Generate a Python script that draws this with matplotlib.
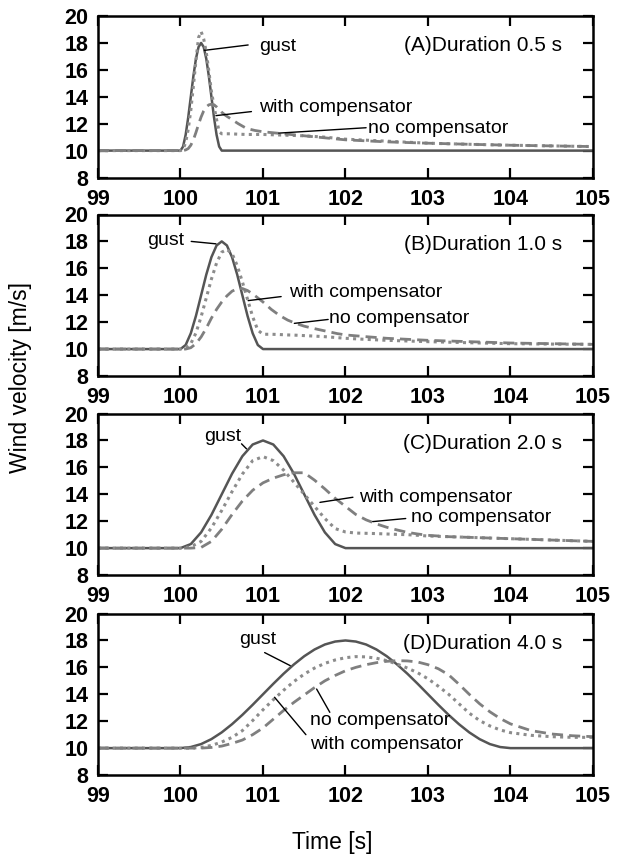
import matplotlib
matplotlib.use("Agg")
import matplotlib.pyplot as plt

plt.rcParams['font.family'] = ['Liberation Sans', 'DejaVu Sans']

# ---- data (time [s], wind velocity [m/s]) ----
# (A) duration 0.5 s
t_a = [99, 100.0, 100.03125, 100.0625, 100.09375, 100.125, 100.15625, 100.1875, 100.21875,
       100.25, 100.28125, 100.3125, 100.34375, 100.375, 100.40625, 100.4375, 100.46875, 100.5,
       100.55, 100.6, 100.7, 100.8, 100.9, 101.0, 101.25, 101.5, 101.75, 102.0,
       102.5, 103.0, 103.5, 104.0, 104.5, 105.0]
gust_a = [10, 10, 10.30, 11.17, 12.47, 14, 15.53, 16.83, 17.70,
          18, 17.70, 16.83, 15.53, 14, 12.47, 11.17, 10.30, 10,
          10, 10, 10, 10, 10, 10, 10, 10, 10, 10,
          10, 10, 10, 10, 10, 10]
with_a = [10, 10, 10.1, 10.6, 11.6, 13.0, 14.8, 16.7, 18.4,
          18.85, 18.3, 17.3, 15.9, 14.4, 13.3, 12.3, 11.4, 11.25,
          11.25, 11.25, 11.22, 11.2, 11.2, 11.2, 11.15, 11.1, 11.0, 10.85,
          10.7, 10.55, 10.47, 10.4, 10.35, 10.3]
no_a = [10, 10, 10.0, 10.05, 10.15, 10.4, 10.8, 11.35, 11.95,
        12.5, 12.95, 13.25, 13.4, 13.45, 13.4, 13.25, 13.05, 12.85,
        12.6, 12.4, 12.0, 11.65, 11.5, 11.4, 11.25, 11.1, 10.95, 10.8,
        10.65, 10.55, 10.47, 10.4, 10.35, 10.3]

# (B) duration 1.0 s
t_b = [99, 100.0, 100.0625, 100.125, 100.1875, 100.25, 100.3125, 100.375, 100.4375,
       100.5, 100.5625, 100.625, 100.6875, 100.75, 100.8125, 100.875, 100.9375, 101.0,
       101.1, 101.2, 101.3, 101.4, 101.5, 101.6, 101.75, 101.9, 102.0, 102.25,
       102.5, 103.0, 103.5, 104.0, 104.5, 105.0]
gust_b = [10, 10, 10.30, 11.17, 12.47, 14, 15.53, 16.83, 17.70,
          18, 17.70, 16.83, 15.53, 14, 12.47, 11.17, 10.30, 10,
          10, 10, 10, 10, 10, 10, 10, 10, 10, 10,
          10, 10, 10, 10, 10, 10]
with_b = [10, 10, 10.1, 10.4, 11.2, 12.4, 13.8, 15.2, 16.4,
          17.2, 17.4, 17.1, 16.2, 15.0, 13.7, 12.4, 11.4, 11.1,
          11.1, 11.08, 11.05, 11.03, 11.0, 10.97, 10.92, 10.85, 10.8, 10.72,
          10.65, 10.55, 10.47, 10.4, 10.37, 10.35]
no_b = [10, 10, 10.0, 10.1, 10.4, 10.9, 11.55, 12.3, 12.95,
        13.5, 13.95, 14.3, 14.48, 14.5, 14.35, 14.1, 13.8, 13.5,
        12.95, 12.5, 12.15, 11.9, 11.7, 11.55, 11.35, 11.15, 11.05, 10.92,
        10.8, 10.65, 10.55, 10.45, 10.4, 10.35]

# (C) duration 2.0 s
t_c = [99, 100.0, 100.125, 100.25, 100.375, 100.5, 100.625, 100.75, 100.875,
       101.0, 101.125, 101.25, 101.375, 101.5, 101.625, 101.75, 101.875, 102.0,
       102.125, 102.25, 102.375, 102.5, 102.625, 102.75, 102.875, 103.0,
       103.25, 103.5, 104.0, 104.5, 105.0]
gust_c = [10, 10, 10.30, 11.17, 12.47, 14, 15.53, 16.83, 17.70,
          18, 17.70, 16.83, 15.53, 14, 12.47, 11.17, 10.30, 10,
          10, 10, 10, 10, 10, 10, 10, 10,
          10, 10, 10, 10, 10]
with_c = [10, 10, 10.1, 10.5, 11.5, 12.8, 14.2, 15.5, 16.5,
          16.8, 16.5, 15.8, 14.9, 14.0, 13.1, 12.2, 11.45, 11.2,
          11.12, 11.1, 11.08, 11.05, 11.02, 11.0, 10.95, 10.9,
          10.85, 10.8, 10.7, 10.6, 10.5]
no_c = [10, 10, 10.0, 10.05, 10.5, 11.4, 12.5, 13.5, 14.3,
        14.85, 15.2, 15.45, 15.6, 15.6, 15.05, 14.4, 13.7, 13.1,
        12.5, 12.1, 11.8, 11.55, 11.35, 11.17, 11.05, 10.95,
        10.85, 10.8, 10.7, 10.6, 10.5]

# (D) duration 4.0 s
t_d = [99, 100.0, 100.125, 100.25, 100.375, 100.5, 100.625, 100.75, 100.875,
       101.0, 101.125, 101.25, 101.375, 101.5, 101.625, 101.75, 101.875,
       102.0, 102.125, 102.25, 102.375, 102.5, 102.625, 102.75, 102.875,
       103.0, 103.125, 103.25, 103.375, 103.5, 103.625, 103.75, 103.875,
       104.0, 104.25, 104.5, 104.75, 105.0]
gust_d = [10, 10, 10.08, 10.30, 10.67, 11.17, 11.78, 12.47, 13.22,
          14, 14.78, 15.53, 16.22, 16.83, 17.33, 17.70, 17.92,
          18, 17.92, 17.70, 17.33, 16.83, 16.22, 15.53, 14.78,
          14, 13.22, 12.47, 11.78, 11.17, 10.67, 10.30, 10.08,
          10, 10, 10, 10, 10]
with_d = [10, 10, 10.0, 10.05, 10.2, 10.45, 10.8, 11.3, 12.05,
          12.85, 13.6, 14.3, 14.95, 15.5, 15.95, 16.3, 16.55,
          16.72, 16.8, 16.78, 16.68, 16.5, 16.25, 15.95, 15.6,
          15.15, 14.6, 14.0, 13.3, 12.6, 12.05, 11.65, 11.35,
          11.15, 10.95, 10.85, 10.8, 10.8]
no_d = [10, 10, 10.0, 10.0, 10.05, 10.15, 10.35, 10.6, 11.0,
        11.5, 12.15, 12.8, 13.4, 13.95, 14.5, 15.0, 15.4,
        15.75, 16.0, 16.2, 16.35, 16.45, 16.5, 16.48, 16.4,
        16.2, 15.9, 15.45, 14.75, 14.0, 13.3, 12.7, 12.2,
        11.8, 11.3, 11.05, 10.92, 10.85]

panel_titles = ["(A)Duration 0.5 s", "(B)Duration 1.0 s", "(C)Duration 2.0 s", "(D)Duration 4.0 s"]
x_ticks = [99, 100, 101, 102, 103, 104, 105]
y_ticks = [8, 10, 12, 14, 16, 18, 20]

# annotation placement per panel: (text, text xy, ha, leader start, leader end)
labels = [
    [("gust", (100.95, 17.7), "left", (100.29, 17.45), (100.82, 17.85)),
     ("with compensator", (100.95, 13.2), "left", (100.43, 12.6), (100.86, 12.9)),
     ("no compensator", (102.27, 11.67), "left", (101.19, 11.3), (102.25, 11.7))],
    [("gust", (100.05, 18.08), "right", (100.13, 18.0), (100.43, 17.82)),
     ("with compensator", (101.32, 14.2), "left", (100.82, 13.6), (101.22, 13.9)),
     ("no compensator", (101.8, 12.25), "left", (101.38, 11.91), (101.79, 12.2))],
    [("gust", (100.29, 18.32), "left", (100.74, 17.75), (100.8, 17.38)),
     ("with compensator", (102.17, 13.78), "left", (101.69, 13.4), (102.09, 13.78)),
     ("no compensator", (102.79, 12.25), "left", (102.33, 11.97), (102.73, 12.2))],
    [("gust", (100.94, 18.1), "center", (101.02, 17.1), (101.33, 16.13)),
     ("no compensator", (101.57, 12.05), "left", (101.65, 14.39), (101.81, 12.66)),
     ("with compensator", (101.57, 10.3), "left", (101.14, 13.78), (101.52, 11.0))],
]

series = [(t_a, gust_a, with_a, no_a), (t_b, gust_b, with_b, no_b),
          (t_c, gust_c, with_c, no_c), (t_d, gust_d, with_d, no_d)]

fig = plt.figure(figsize=(6.33, 8.58), dpi=100)
bottoms = [0.7931, 0.5618, 0.3298, 0.0967]

for i, (t, gust, withc, noc) in enumerate(series):
    ax = fig.add_axes([0.1548, bottoms[i], 0.782, 0.1882])
    ax.plot(t, gust, color="#555555", lw=1.8, solid_joinstyle="round")
    ax.plot(t, withc, color="#8c8c8c", lw=2.2, linestyle=(0, (1.0, 1.4)))
    ax.plot(t, noc, color="#7f7f7f", lw=2.0, linestyle=(0, (4.0, 2.2)))

    ax.set_xlim(99, 105)
    ax.set_ylim(8, 20)
    ax.set_xticks(x_ticks)
    ax.set_yticks(y_ticks)
    ax.tick_params(direction="in", top=True, right=True, length=7, width=1.6,
                   labelsize=15.5)
    ax.tick_params(axis="x", pad=8)
    ax.tick_params(axis="y", pad=7)
    for lab in ax.get_xticklabels() + ax.get_yticklabels():
        lab.set_fontweight("bold")
    for sp in ax.spines.values():
        sp.set_linewidth(1.8)

    ax.text(104.63, 17.8, panel_titles[i], ha="right", va="center", fontsize=15)

    for txt, pos, ha, p0, p1 in labels[i]:
        ax.text(pos[0], pos[1], txt, ha=ha, va="center", fontsize=14)
        ax.annotate("", xy=p0, xytext=p1,
                    arrowprops=dict(arrowstyle="-", color="black", lw=1.0,
                                    shrinkA=0, shrinkB=0))

fig.text(0.032, 1 - 377 / 858, "Wind velocity [m/s]", rotation=90,
         ha="center", va="center", fontsize=16.5)
fig.text(332 / 633, 1 - 843 / 858, "Time [s]", ha="center", va="center", fontsize=16.5)

fig.savefig("out.png", dpi=100)
